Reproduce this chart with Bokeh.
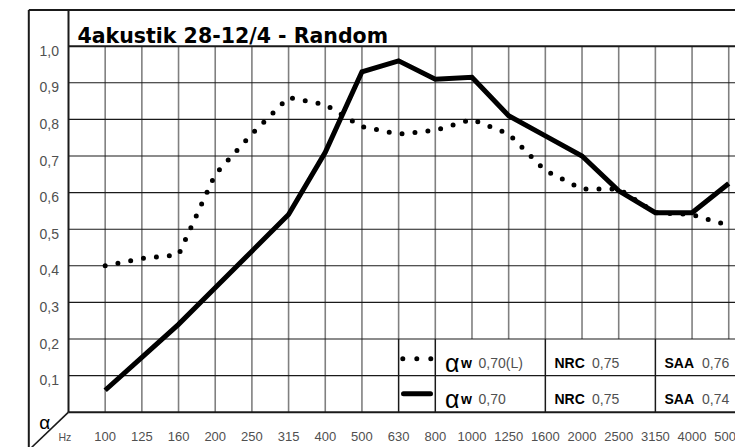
from bokeh.plotting import figure
from bokeh.models import Range1d
from bokeh.embed import file_html
from bokeh.resources import INLINE
from bokeh.core.properties import value

# ---------------- data ----------------
title_text = "4akustik 28-12/4 - Random"
freqs = ["100", "125", "160", "200", "250", "315", "400", "500", "630", "800",
         "1000", "1250", "1600", "2000", "2500", "3150", "4000", "5000"]
alpha_dotted = [0.40, 0.42, 0.43, 0.65, 0.76, 0.86, 0.84, 0.78, 0.76, 0.77,
                0.80, 0.76, 0.66, 0.61, 0.61, 0.545, 0.54, 0.51]
alpha_solid = [0.06, 0.15, 0.24, 0.34, 0.44, 0.54, 0.71, 0.93, 0.96, 0.91,
               0.915, 0.81, 0.755, 0.70, 0.605, 0.545, 0.545, 0.625]
y_ticks = [0.1, 0.2, 0.3, 0.4, 0.5, 0.6, 0.7, 0.8, 0.9, 1.0]
y_labels = ["0,1", "0,2", "0,3", "0,4", "0,5", "0,6", "0,7", "0,8", "0,9", "1,0"]
x_unit_label = "Hz"
y_unit_label = "\u03b1"
legend_symbol = ["\u03b1", "\u03b1"]
legend_sub = ["w", "w"]
legend_aw = ["0,70(L)", "0,70"]
legend_nrc_name = ["NRC", "NRC"]
legend_nrc = ["0,75", "0,75"]
legend_saa_name = ["SAA", "SAA"]
legend_saa = ["0,76", "0,74"]

# ---------------- layout helpers (picture px -> data) ----------------
W, H = 735, 447
PX_X = 36.68      # px per frequency step
PX_Y = 366.0      # px per 1.0 alpha
X0_IMG, Y0_IMG = 68.0, 411.7   # picture position of (index 0, alpha 0)


def ix(px):
    return (px - X0_IMG) / PX_X


def iy(py):
    return (Y0_IMG - py) / PX_Y


XL, XR = ix(0), ix(W)
YT, YB = iy(0), iy(H)

p = figure(width=W, height=H, x_range=Range1d(XL, XR), y_range=Range1d(YB, YT),
           x_axis_location=None, y_axis_location=None, toolbar_location=None,
           output_backend="svg", min_border=0, outline_line_color=None,
           background_fill_color="white", border_fill_color="white")
p.grid.visible = False

idx = list(range(1, len(freqs) + 1))
LEG_COL = 9  # legend starts at 630 Hz column

# vertical grid (grey); inside the legend area they stop at 0.2
vx = [i for i in idx]
vy0 = [0.0 if i < LEG_COL else 0.2 for i in idx]
p.segment(x0=vx, y0=vy0, x1=vx, y1=[1.0] * len(vx), line_color="#808080", line_width=1.6)

# horizontal grid (black)
p.segment(x0=[0] * 9, y0=y_ticks[:9], x1=[XR] * 9, y1=y_ticks[:9], line_color="#1a1a1a", line_width=1.1)

TOP = iy(9.5)
OUTER_X = ix(28.3)
# frame lines
p.segment(x0=[0, 0, OUTER_X, 0, OUTER_X], y0=[0, 1.0, TOP, 0, TOP],
          x1=[XR, XR, XR, 0, OUTER_X], y1=[0, 1.0, TOP, TOP, YB],
          line_color="#1a1a1a", line_width=2.0)
# diagonal at the bottom-left corner
p.line(x=[0, ix(31.0)], y=[0, YB], line_color="#1a1a1a", line_width=1.6)

# legend cell dividers
div_x = [LEG_COL, LEG_COL + 1, LEG_COL + 4, LEG_COL + 7]
p.segment(x0=div_x, y0=[0] * 4, x1=div_x, y1=[0.2] * 4, line_color="#1a1a1a", line_width=1.5)

# series
p.line(x=idx, y=alpha_solid, line_color="black", line_width=5, line_join="miter")
p.line(x=idx, y=alpha_dotted, line_color="black", line_width=5, line_dash="0 13", line_cap="round")

# legend samples
r1, r2 = iy(358.3), iy(393.3)
p.line(x=[ix(402.3), ix(432.5)], y=[r1, r1], line_color="black", line_width=5,
       line_dash="0 14", line_cap="round")
p.line(x=[ix(403), ix(430)], y=[r2, r2], line_color="black", line_width=5, line_cap="round")

F = value("Liberation Sans")
GREY = "#505050"

# title
p.text(x=[ix(77)], y=[iy(35.5)], text=[title_text], text_font=value("DejaVu Sans"),
       text_font_style="bold", text_font_size="20.5px", text_color="black",
       text_align="left", text_baseline="alphabetic")

# y tick labels
p.text(x=[ix(58.5)] * len(y_ticks), y=[t - 4.5 / PX_Y for t in y_ticks], text=y_labels,
       text_font=F, text_font_size="14px", text_color=GREY,
       text_align="right", text_baseline="alphabetic")

# x tick labels
p.text(x=idx, y=[iy(436)] * len(idx), text=freqs, text_font=F, text_font_size="13px",
       text_color=GREY, text_align="center", text_baseline="alphabetic")
p.text(x=[ix(64.3)], y=[iy(436)], text=[x_unit_label], text_font=F, text_font_size="10.5px",
       text_color=GREY, text_align="center", text_baseline="alphabetic")
p.text(x=[ix(44.3)], y=[iy(422)], text=[y_unit_label], text_font=F, text_font_size="19px",
       text_color="black", text_align="center", text_baseline="alphabetic")

# legend texts
rows = [iy(362.8), iy(398.2)]
p.text(x=[ix(444.5)] * 2, y=rows, text=legend_symbol, text_font=F, text_font_size="25px",
       text_color="black", text_align="left", text_baseline="alphabetic")
p.text(x=[ix(460.5)] * 2, y=rows, text=legend_sub, text_font=F, text_font_style="bold",
       text_font_size="14px", text_color="black", text_align="left", text_baseline="alphabetic")
p.text(x=[ix(478)] * 2, y=rows, text=legend_aw, text_font=F, text_font_size="14px",
       text_color=GREY, text_align="left", text_baseline="alphabetic")
p.text(x=[ix(554)] * 2, y=rows, text=legend_nrc_name, text_font=F, text_font_style="bold",
       text_font_size="14px", text_color="black", text_align="left", text_baseline="alphabetic")
p.text(x=[ix(591.5)] * 2, y=rows, text=legend_nrc, text_font=F, text_font_size="14px",
       text_color=GREY, text_align="left", text_baseline="alphabetic")
p.text(x=[ix(664)] * 2, y=rows, text=legend_saa_name, text_font=F, text_font_style="bold",
       text_font_size="14px", text_color="black", text_align="left", text_baseline="alphabetic")
p.text(x=[ix(701.5)] * 2, y=rows, text=legend_saa, text_font=F, text_font_size="14px",
       text_color=GREY, text_align="left", text_baseline="alphabetic")

open("out.html", "w").write(file_html(p, INLINE))
